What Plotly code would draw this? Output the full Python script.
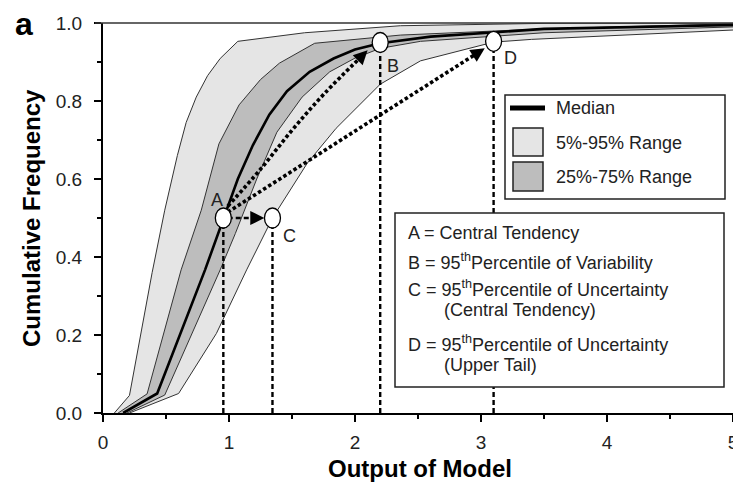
import plotly.graph_objects as go

# ---------------- data ----------------
# Each curve: x value (Output of Model) at cumulative frequency y
outer_left_x  = [0.09, 0.21, 0.39, 0.49, 0.59, 0.66, 0.74, 0.83, 0.93, 1.07, 1.60, 2.36, 3.50, 5.00]
outer_left_y  = [0.00, 0.045, 0.36, 0.52, 0.66, 0.745, 0.81, 0.865, 0.909, 0.953, 0.975, 0.993, 0.999, 1.00]
inner_left_x  = [0.12, 0.35, 0.62, 0.78, 0.92, 1.08, 1.25, 1.40, 1.68, 2.36, 3.50, 5.00]
inner_left_y  = [0.00, 0.049, 0.367, 0.52, 0.69, 0.79, 0.855, 0.897, 0.948, 0.969, 0.985, 0.998]
median_x      = [0.16, 0.43, 0.81, 0.955, 1.07, 1.19, 1.32, 1.46, 1.64, 1.83, 2.00, 2.20, 2.60, 3.50, 5.00]
median_y      = [0.00, 0.05, 0.367, 0.50, 0.60, 0.687, 0.765, 0.825, 0.875, 0.909, 0.932, 0.948, 0.965, 0.985, 0.995]
inner_right_x = [0.19, 0.49, 0.93, 1.05, 1.22, 1.38, 1.58, 1.80, 2.00, 2.20, 2.52, 3.50, 5.00]
inner_right_y = [0.00, 0.046, 0.367, 0.46, 0.60, 0.72, 0.81, 0.875, 0.91, 0.935, 0.953, 0.975, 0.99]
outer_right_x = [0.21, 0.60, 0.90, 1.14, 1.345, 1.62, 1.85, 2.07, 2.20, 2.52, 3.02, 3.10, 3.40, 5.00]
outer_right_y = [0.00, 0.05, 0.204, 0.367, 0.50, 0.64, 0.73, 0.80, 0.843, 0.903, 0.944, 0.951, 0.958, 0.982]

point_labels = ["A", "B", "C", "D"]
point_x = [0.955, 2.20, 1.345, 3.10]
point_y = [0.50, 0.95, 0.50, 0.953]

# arrow paths from A
path_ab_x = [0.99, 1.25, 1.50, 1.76, 2.10]
path_ab_y = [0.53, 0.625, 0.725, 0.82, 0.93]
path_ad_x = [0.99, 3.03]
path_ad_y = [0.515, 0.935]
path_ac_x = [0.99, 1.28]
path_ac_y = [0.50, 0.50]

x_ticks = [0, 1, 2, 3, 4, 5]
y_ticks = [0.0, 0.2, 0.4, 0.6, 0.8, 1.0]
y_tick_text = ["0.0", "0.2", "0.4", "0.6", "0.8", "1.0"]

legend_items = ["Median", "5%-95% Range", "25%-75% Range"]
note_lines = [
    "A = Central Tendency",
    "B = 95<sup>th</sup>Percentile of Variability",
    "C = 95<sup>th</sup>Percentile of Uncertainty",
    "(Central Tendency)",
    "D = 95<sup>th</sup>Percentile of Uncertainty",
    "(Upper Tail)",
]

# ---------------- style ----------------
FONT = "Liberation Sans, Arial, sans-serif"
LIGHT = "#e5e5e5"
DARK = "#bdbdbd"
EDGE = "#333333"
W, H = 733, 485
L, R, T, B = 103, 0, 23, 72
PW, PH = W - L - R, H - T - B
XR, YR = (0, 5), (0, 1)
SX, SY = PW / (XR[1] - XR[0]), PH / (YR[1] - YR[0])


def px(xp):
    return (xp - L) / PW


def py(yp):
    return (H - B - yp) / PH


def back_off(xs, ys, dist_px):
    """point lying dist_px pixels before the last point, along the last segment"""
    dx = (xs[-1] - xs[-2]) * SX
    dy = (ys[-1] - ys[-2]) * SY
    n = (dx * dx + dy * dy) ** 0.5
    f = dist_px / n
    return xs[-1] - (xs[-1] - xs[-2]) * f, ys[-1] - (ys[-1] - ys[-2]) * f


fig = go.Figure()

# bands
fig.add_trace(go.Scatter(
    x=outer_left_x + outer_right_x[::-1], y=outer_left_y + outer_right_y[::-1],
    mode="lines", fill="toself", fillcolor=LIGHT, line=dict(width=0),
    hoverinfo="skip"))
fig.add_trace(go.Scatter(
    x=inner_left_x + inner_right_x[::-1], y=inner_left_y + inner_right_y[::-1],
    mode="lines", fill="toself", fillcolor=DARK, line=dict(width=0),
    hoverinfo="skip"))
for cx, cy in [(outer_left_x, outer_left_y), (outer_right_x, outer_right_y),
               (inner_left_x, inner_left_y), (inner_right_x, inner_right_y)]:
    fig.add_trace(go.Scatter(x=cx, y=cy, mode="lines",
                             line=dict(color=EDGE, width=1), hoverinfo="skip"))
fig.add_trace(go.Scatter(x=median_x, y=median_y, mode="lines",
                         line=dict(color="black", width=2.6), hoverinfo="skip"))

# dashed verticals down to the axis
for xv, yv in zip(point_x, point_y):
    fig.add_trace(go.Scatter(x=[xv, xv], y=[0, yv], mode="lines",
                             line=dict(color="black", width=2.4, dash="5px,3px"),
                             hoverinfo="skip"))

# arrow bodies (stop short of the head) + heads
DOT = dict(color="black", width=3.6, dash="3.5px,2.5px")
annotations = []
for xs, ys, line_style, spline in [
    (path_ab_x, path_ab_y, DOT, True),
    (path_ad_x, path_ad_y, DOT, False),
    (path_ac_x, path_ac_y, dict(color="black", width=2.6, dash="5px,3px"), False),
]:
    ex, ey = back_off(xs, ys, 9)
    tx, ty = back_off(xs, ys, 12)
    fig.add_trace(go.Scatter(x=xs[:-1] + [ex], y=ys[:-1] + [ey], mode="lines",
                             line=dict(line_style, shape="spline" if spline else "linear"),
                             hoverinfo="skip"))
    annotations.append(dict(x=xs[-1], y=ys[-1], ax=tx, ay=ty,
                            xref="x", yref="y", axref="x", ayref="y",
                            showarrow=True, arrowhead=2, arrowsize=1.4, arrowwidth=2,
                            arrowcolor="black", text="", standoff=0))

shapes = []
# point circles
for xv, yv in zip(point_x, point_y):
    shapes.append(dict(type="circle", xref="x", yref="y", xsizemode="pixel", ysizemode="pixel",
                       xanchor=xv, yanchor=yv, x0=-8, x1=8, y0=-10, y1=10,
                       fillcolor="white", line=dict(color="black", width=1.3), layer="above"))
label_shift = {"A": (-6, 18), "B": (13, -23), "C": (17, -18), "D": (17, -17)}
for lab, xv, yv in zip(point_labels, point_x, point_y):
    dx, dy = label_shift[lab]
    annotations.append(dict(x=xv, y=yv, xref="x", yref="y", text=lab, showarrow=False,
                            xshift=dx, yshift=dy, font=dict(family=FONT, size=18, color="#222")))

# top frame line
shapes.append(dict(type="line", xref="paper", yref="paper", x0=px(95), x1=1, y0=1, y1=1,
                   line=dict(color="#333", width=1.6), layer="above"))

# legend box
shapes.append(dict(type="rect", xref="paper", yref="paper", x0=px(505), x1=px(725), y0=py(199), y1=py(95),
                   fillcolor="white", line=dict(color="#222", width=1.5), layer="above"))
shapes.append(dict(type="line", xref="paper", yref="paper", x0=px(510), x1=px(545), y0=py(108), y1=py(108),
                   line=dict(color="black", width=5), layer="above"))
shapes.append(dict(type="rect", xref="paper", yref="paper", x0=px(513), x1=px(543), y0=py(156), y1=py(128),
                   fillcolor=LIGHT, line=dict(color="#222", width=1.5), layer="above"))
shapes.append(dict(type="rect", xref="paper", yref="paper", x0=px(513), x1=px(543), y0=py(191), y1=py(162),
                   fillcolor=DARK, line=dict(color="#222", width=1.5), layer="above"))
for txt, yp in zip(legend_items, [108, 143, 177]):
    annotations.append(dict(x=px(554), y=py(yp), xref="paper", yref="paper", text=txt,
                            showarrow=False, xanchor="left", yanchor="middle",
                            font=dict(family=FONT, size=18, color="#222")))

# note box
shapes.append(dict(type="rect", xref="paper", yref="paper", x0=px(395), x1=px(724), y0=py(387), y1=py(213),
                   fillcolor="white", line=dict(color="#222", width=1.5), layer="above"))
for txt, xp, yp in zip(note_lines, [406, 406, 406, 442, 406, 442], [233, 261, 288, 310, 343, 365]):
    annotations.append(dict(x=px(xp), y=py(yp), xref="paper", yref="paper", text=txt,
                            showarrow=False, xanchor="left", yanchor="middle",
                            font=dict(family=FONT, size=18, color="#222")))

# panel letter and axis titles
annotations.append(dict(x=px(24), y=py(24), xref="paper", yref="paper", text="<b>a</b>",
                        showarrow=False, xanchor="center", yanchor="middle",
                        font=dict(family=FONT, size=32, color="black")))
annotations.append(dict(x=px(420), y=py(468), xref="paper", yref="paper", text="<b>Output of Model</b>",
                        showarrow=False, xanchor="center", yanchor="middle",
                        font=dict(family=FONT, size=24, color="black")))
annotations.append(dict(x=px(31), y=py(218), xref="paper", yref="paper", text="<b>Cumulative Frequency</b>",
                        showarrow=False, xanchor="center", yanchor="middle", textangle=-90,
                        font=dict(family=FONT, size=24, color="black")))

fig.update_layout(
    width=W, height=H, margin=dict(l=L, r=R, t=T, b=B, autoexpand=False),
    paper_bgcolor="white", plot_bgcolor="white", showlegend=False,
    shapes=shapes, annotations=annotations,
    xaxis=dict(range=list(XR), tickvals=x_ticks, ticktext=[str(v) for v in x_ticks],
               ticks="outside", ticklen=7, tickwidth=1.5, tickcolor="black",
               showline=True, linecolor="black", linewidth=2, showgrid=False, zeroline=False,
               automargin=False, ticklabelstandoff=4, ticklabeloverflow="allow",
               tickfont=dict(family=FONT, size=19, color="#222"),
               minor=dict(ticks="outside", ticklen=4, tickwidth=1.5, tickcolor="black", dtick=0.5,
                          showgrid=False)),
    yaxis=dict(range=list(YR), tickvals=y_ticks, ticktext=y_tick_text,
               ticks="outside", ticklen=7, tickwidth=1.5, tickcolor="black",
               showline=True, linecolor="black", linewidth=2, showgrid=False, zeroline=False,
               automargin=False, ticklabelstandoff=8,
               tickfont=dict(family=FONT, size=19, color="#222"),
               minor=dict(ticks="outside", ticklen=4, tickwidth=1.5, tickcolor="black", dtick=0.1,
                          showgrid=False)),
)

fig.write_html("out.html", config={"displayModeBar": False},
               post_script="document.body.style.margin='0';document.body.style.padding='0';")
